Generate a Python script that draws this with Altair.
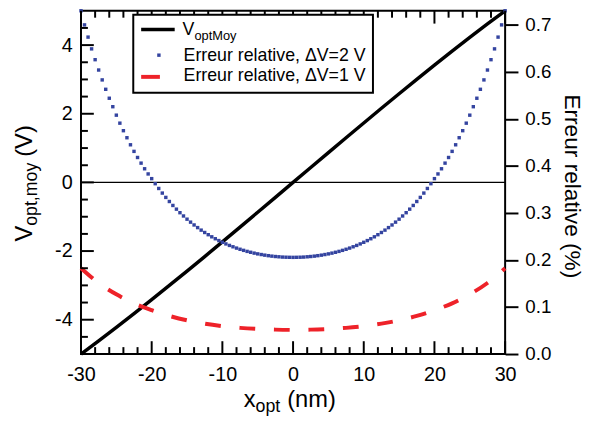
import altair as alt
import pandas as pd

# ---------------- data ----------------
# x positions of the relative-error samples (nm), step 0.5
x_err = [-30.0 + 0.5 * i for i in range(121)]
# relative error (%) for dV = 2 V (blue squares)
err_dv2 = [
    0.730, 0.700, 0.674, 0.649, 0.626, 0.604, 0.583, 0.563, 0.544, 0.526,
    0.508, 0.491, 0.475, 0.460, 0.445, 0.431, 0.418, 0.406, 0.394, 0.383,
    0.373, 0.3623, 0.3521, 0.3423, 0.3331, 0.3244, 0.3160, 0.3081, 0.3006, 0.2936,
    0.2868, 0.2805, 0.2745, 0.2689, 0.2635, 0.2585, 0.2538, 0.2493, 0.2452, 0.2413,
    0.2376, 0.2342, 0.2310, 0.2281, 0.2253, 0.2228, 0.2205, 0.2183, 0.2164, 0.2146,
    0.2130, 0.2116, 0.2103, 0.2092, 0.2082, 0.2074, 0.2068, 0.2062, 0.2059, 0.2057,
    0.2056,
    0.2057, 0.2059, 0.2062, 0.2068, 0.2074, 0.2082, 0.2092, 0.2103, 0.2116, 0.2130,
    0.2146, 0.2164, 0.2183, 0.2205, 0.2228, 0.2253, 0.2281, 0.2310, 0.2342, 0.2376,
    0.2413, 0.2452, 0.2493, 0.2538, 0.2585, 0.2635, 0.2689, 0.2745, 0.2805, 0.2868,
    0.2936, 0.3006, 0.3081, 0.3160, 0.3244, 0.3331, 0.3423, 0.3521, 0.3623, 0.373,
    0.383, 0.394, 0.406, 0.418, 0.431, 0.445, 0.460, 0.475, 0.491, 0.508,
    0.526, 0.544, 0.563, 0.583, 0.604, 0.626, 0.649, 0.674, 0.700, 0.730,
]
# x positions for the V_optMoy curve and the dV = 1 V error curve, step 2.5
x_curve = [-30, -27.5, -25, -22.5, -20, -17.5, -15, -12.5, -10, -7.5, -5, -2.5, 0,
           2.5, 5, 7.5, 10, 12.5, 15, 17.5, 20, 22.5, 25, 27.5, 30]
v_opt_moy = [-5.0, -4.615, -4.222, -3.822, -3.415, -3.002, -2.583, -2.160, -1.732,
             -1.302, -0.869, -0.435, 0.0, 0.435, 0.869, 1.302, 1.732, 2.160, 2.583,
             3.002, 3.415, 3.822, 4.222, 4.615, 5.0]
err_dv1 = [0.1825, 0.151, 0.127, 0.1078, 0.0933, 0.0811, 0.0717, 0.0646, 0.0594,
           0.0557, 0.0533, 0.0519, 0.0514, 0.0519, 0.0533, 0.0557, 0.0594, 0.0646,
           0.0717, 0.0811, 0.0933, 0.1078, 0.127, 0.151, 0.1825]

# axis tick values
x_major = [-30, -20, -10, 0, 10, 20, 30]
x_minor = [v for v in range(-28, 29, 2) if v % 10 != 0]
v_major = [-4, -2, 0, 2, 4]
v_minor = [v / 2 for v in range(-9, 10) if v % 4 != 0]
err_ticks = [0.0, 0.1, 0.2, 0.3, 0.4, 0.5, 0.6, 0.7]

FONT = "Liberation Sans"
W, H = 430, 348
BLUE = "#3444a0"
RED = "#ee2229"

xs = alt.Scale(domain=[-30, 30], nice=False, zero=False)
vs = alt.Scale(domain=[-5, 5], nice=False, zero=False)
es = alt.Scale(domain=[0, 0.73], nice=False, zero=False)

fix_minus = "replace(datum.label, '\u2212', '-')"

x_axis = alt.Axis(orient="bottom", values=x_major, ticks=False, tickSize=0, domain=False,
                  grid=False, title=None, labelPadding=11, labelFontSize=20,
                  labelFlush=False, labelExpr=fix_minus, labelFont=FONT, labelColor="black")
v_axis = alt.Axis(orient="left", values=v_major, ticks=False, tickSize=0, domain=False,
                  grid=False, title=None, labelPadding=9, labelFontSize=20,
                  labelFlush=False, labelExpr=fix_minus, labelFont=FONT, labelColor="black")
e_axis = alt.Axis(orient="right", values=err_ticks, format=".1f", tickSize=13, tickWidth=2,
                  tickColor="black", domain=False, grid=False, title=None, labelPadding=7,
                  labelFontSize=19, labelFlush=False, labelFont=FONT, labelColor="black")

X = alt.X("x:Q", scale=xs, axis=x_axis)

curve_df = pd.DataFrame({"x": x_curve, "v": v_opt_moy, "e1": err_dv1})
err_df = pd.DataFrame({"x": x_err, "e2": err_dv2})

zero_line = alt.Chart(pd.DataFrame({"x": [-30], "v": [0]})).mark_rule(
    color="black", strokeWidth=1.2).encode(
    x=X, y=alt.Y("v:Q", scale=vs, axis=None), x2=alt.datum(30))

black = alt.Chart(curve_df).mark_line(color="black", strokeWidth=3.5).encode(
    x=X, y=alt.Y("v:Q", scale=vs, axis=v_axis))

blue = alt.Chart(err_df).mark_square(color=BLUE, size=12, opacity=1).encode(
    x=X, y=alt.Y("e2:Q", scale=es, axis=e_axis))

red = alt.Chart(curve_df).mark_line(color=RED, strokeWidth=4, strokeDash=[16, 19],
                                    interpolate="monotone").encode(
    x=X, y=alt.Y("e1:Q", scale=es, axis=None))


def xticks(vals, y0, y1):
    return alt.Chart(pd.DataFrame({"x": vals})).mark_rule(color="black", strokeWidth=2).encode(
        x=X, y=alt.value(y0), y2=alt.value(y1))


def vticks(vals, length):
    return alt.Chart(pd.DataFrame({"t": vals})).mark_rule(color="black", strokeWidth=2).encode(
        y=alt.Y("t:Q", scale=vs, axis=None), x=alt.value(0), x2=alt.value(length))


def label(txt, x, y, size, angle=0, align="left", baseline="alphabetic"):
    return alt.Chart(pd.DataFrame({"t": [txt]})).mark_text(
        font=FONT, fontSize=size, angle=angle, align=align, baseline=baseline,
        color="black").encode(x=alt.value(x), y=alt.value(y), text="t:N")


def hline(x0, x1, y, color, width):
    return alt.Chart(pd.DataFrame({"a": [0]})).mark_rule(color=color, strokeWidth=width).encode(
        x=alt.value(x0), x2=alt.value(x1), y=alt.value(y))


legend_box = alt.Chart(pd.DataFrame({"a": [0]})).mark_rect(
    fill="white", stroke="black", strokeWidth=2).encode(
    x=alt.value(53), x2=alt.value(296), y=alt.value(4), y2=alt.value(83))
legend_sq = alt.Chart(pd.DataFrame({"a": [0]})).mark_square(
    color=BLUE, size=12, opacity=1).encode(x=alt.value(79), y=alt.value(45))

layers = [
    zero_line, black, blue, red,
    xticks(x_major, H, H - 13), xticks(x_minor, H, H - 7),
    xticks(x_major, 0, 13), xticks(x_minor, 0, 7),
    vticks(v_major, 13), vticks(v_minor, 7),
    legend_box,
    hline(61, 95, 19, "black", 3.5),
    label("V", 103, 25, 18), label("optMoy", 115, 29.5, 13),
    legend_sq,
    label("Erreur relative, \u0394V=2 V", 104, 51, 18),
    hline(61, 80, 67, RED, 4),
    label("Erreur relative, \u0394V=1 V", 104, 71, 18),
    # left axis title
    label("V", -50, 234, 24, angle=270), label("opt,moy", -45, 218, 18, angle=270),
    label("(V)", -50, 148, 24, angle=270),
    # bottom axis title
    label("x", 165, 402, 24), label("opt", 177, 407, 18), label("(nm)", 209, 402, 24),
    # right axis title
    label("Erreur relative (%)", 491, 178, 23, angle=90, align="center"),
]

chart = alt.layer(*layers).resolve_scale(y="independent").properties(
    width=W, height=H,
    autosize=alt.AutoSizeParams(type="none"),
    padding={"left": 74, "top": 0, "right": 83, "bottom": 60},
).configure_view(stroke="black", strokeWidth=2)

chart.save("out.html", embed_options={"renderer": "svg", "actions": False})
